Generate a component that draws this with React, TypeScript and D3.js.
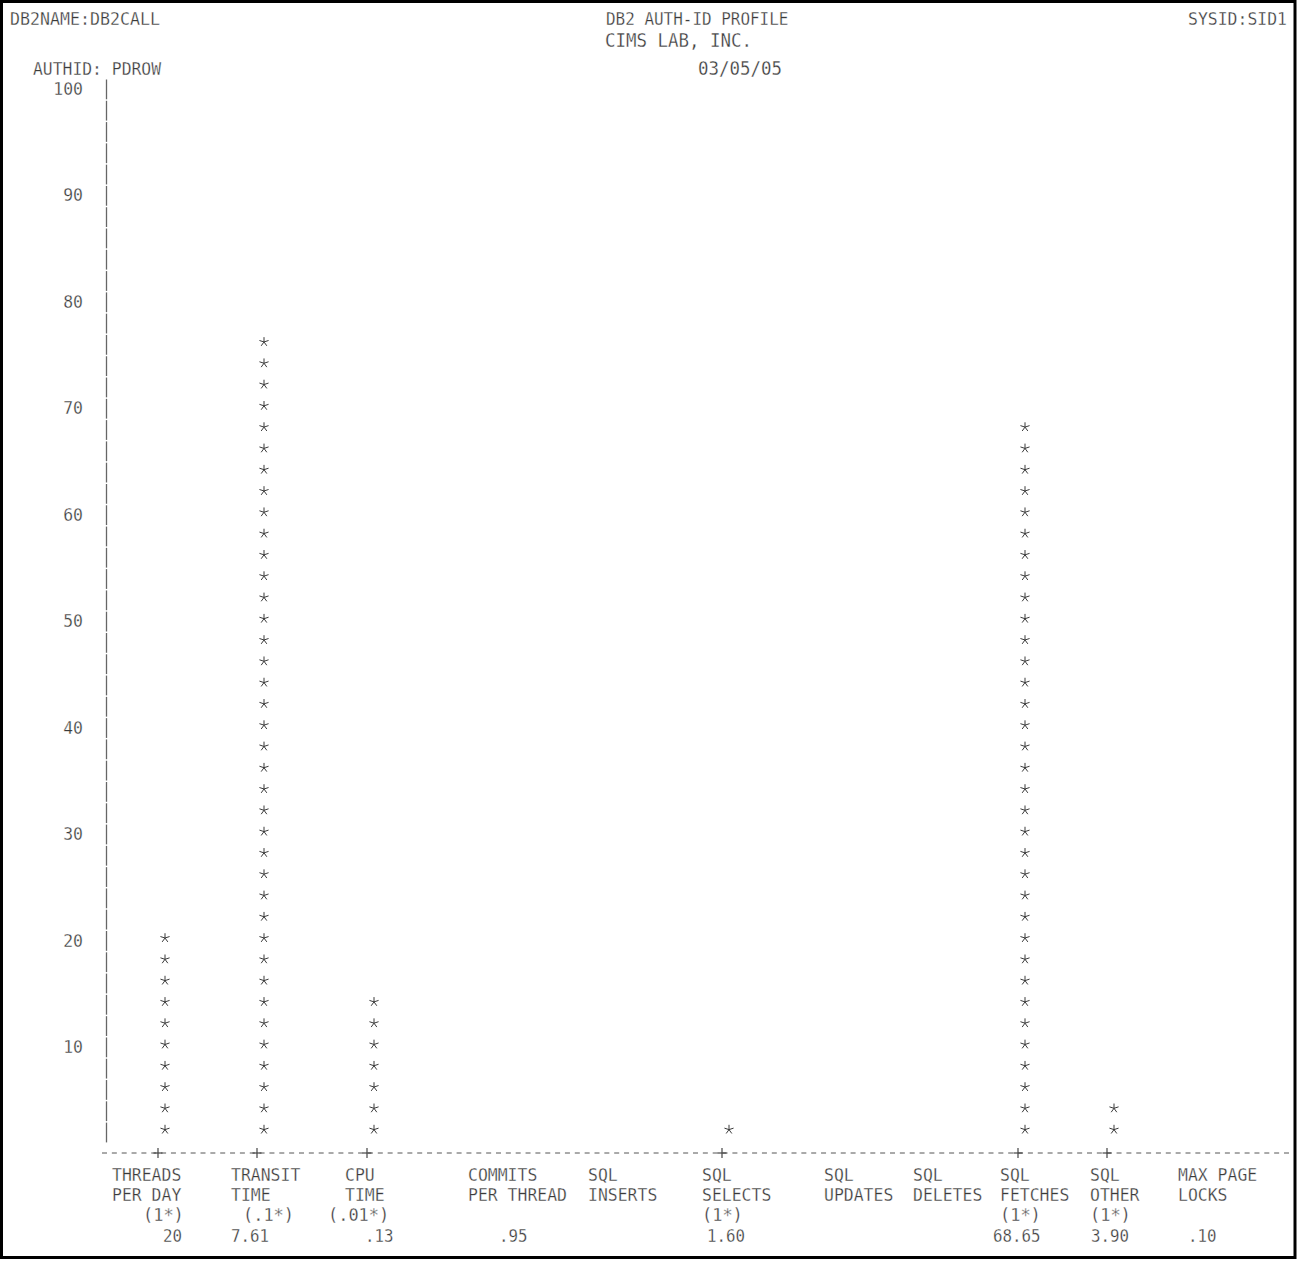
import React from "react";
import * as d3 from "d3";

// ---- data ----
const categories = [
  "THREADS PER DAY", "TRANSIT TIME", "CPU TIME", "COMMITS PER THREAD", "SQL INSERTS",
  "SQL SELECTS", "SQL UPDATES", "SQL DELETES", "SQL FETCHES", "SQL OTHER", "MAX PAGE LOCKS",
];
const plottedValues = [20, 76, 14, 0, 0, 2, 0, 0, 68, 4, 0];
const labelLine1 = ["THREADS", "TRANSIT", "CPU", "COMMITS", "SQL", "SQL", "SQL", "SQL", "SQL", "SQL", "MAX PAGE"];
const labelLine2 = ["PER DAY", "TIME", "TIME", "PER THREAD", "INSERTS", "SELECTS", "UPDATES", "DELETES", "FETCHES", "OTHER", "LOCKS"];
const scaleNotes = ["(1*)", "(.1*)", "(.01*)", "", "", "(1*)", "", "", "(1*)", "(1*)", ""];
const valueLabels = ["20", "7.61", ".13", ".95", "", "1.60", "", "", "68.65", "3.90", ".10"];
const yTicks = [100, 90, 80, 70, 60, 50, 40, 30, 20, 10];
const starStep = 2;

// ---- layout (column positions in px) ----
const plusX = [158, 257, 367, 490, 610, 722, 840, 930, 1018, 1107, 1200];
const labelX = [112, 231, 345, 468, 588, 702, 824, 913, 1000, 1090, 1178];
const noteX = [143, 243, 328, 0, 0, 702, 0, 0, 1000, 1090, 0];
const valueX = [163, 231, 365, 499, 0, 707, 0, 0, 993, 1091, 1188];

const W = 1297;
const H = 1261;
const INK = "#3a3a3a";
const FONT = "'DejaVu Sans Mono', monospace";

function T({ x, y, s, anchor = "start", cw = 9.85, size = 18 }: any) {
  return (
    <text
      x={x}
      y={y}
      textLength={s.length * cw}
      lengthAdjust="spacingAndGlyphs"
      textAnchor={anchor}
      fontFamily={FONT}
      fontSize={size}
      fill={INK}
      stroke="#fff"
      strokeWidth={0.3}
    >
      {s}
    </text>
  );
}

function starPath(r: number) {
  const p = d3.path();
  for (let k = 0; k < 5; k++) {
    const a = (-90 + k * 72) * (Math.PI / 180);
    p.moveTo(0, 0);
    p.lineTo(r * Math.cos(a), r * Math.sin(a));
  }
  return p.toString();
}

export default function App() {
  const y = d3.scaleLinear().domain([0, 100]).range([1152.4, 88]);
  const x = d3.scaleOrdinal<string, number>().domain(categories).range(plusX);
  const star = starPath(4.8);

  const axisRows = d3.range(starStep, 100 + starStep, starStep);

  return (
    <svg
      width={W}
      height={H}
      style={{ position: "absolute", left: 0, top: 0, display: "block", background: "#fff" }}
    >
      <rect x={1.5} y={1.5} width={W - 3.5} height={1256} fill="#fff" stroke="#000" strokeWidth={3} />

      {/* header */}
      <T x={10} y={25} s="DB2NAME:DB2CALL" cw={10} />
      <T x={606} y={25} s="DB2 AUTH-ID PROFILE" cw={9.6} />
      <T x={1287} y={25} s="SYSID:SID1" anchor="end" cw={9.9} />
      <T x={605} y={47} s="CIMS LAB, INC." cw={10.5} size={19} />
      <T x={33} y={75} s="AUTHID: PDROW" cw={9.85} />
      <T x={698} y={75} s="03/05/05" cw={10.5} size={19} />

      {/* y axis */}
      {axisRows.map((v) => (
        <line key={"ax" + v} x1={106.5} x2={106.5} y1={y(v) - 8.5} y2={y(v) + 11.3} stroke="#666" strokeWidth={1.3} />
      ))}
      {yTicks.map((v) => (
        <T key={"t" + v} x={83} y={y(v) + 7} s={String(v)} anchor="end" cw={9.9} />
      ))}

      {/* x axis */}
      <line x1={102} x2={1291} y1={1153} y2={1153} stroke="#555" strokeWidth={1} strokeDasharray="5,4.85" />
      {categories.map((c, i) =>
        plottedValues[i] > 0 ? (
          <g key={"p" + c} stroke="#444" strokeWidth={1.2}>
            <line x1={x(c) - 4.5} x2={x(c) + 4.5} y1={1153} y2={1153} />
            <line x1={x(c)} x2={x(c)} y1={1148} y2={1158} />
          </g>
        ) : null
      )}

      {/* stars */}
      {categories.map((c, i) =>
        d3.range(starStep, plottedValues[i] + 0.001, starStep).map((v) => (
          <path
            key={c + v}
            d={star}
            transform={`translate(${x(c) + 7},${y(v) - 1.5})`}
            stroke={INK}
            strokeWidth={1}
            fill="none"
          />
        ))
      )}

      {/* category labels */}
      {categories.map((c, i) => (
        <g key={"l" + c}>
          <T x={labelX[i]} y={1181} s={labelLine1[i]} cw={9.9} />
          <T x={labelX[i]} y={1201} s={labelLine2[i]} cw={9.9} />
          {scaleNotes[i] ? <T x={noteX[i]} y={1221} s={scaleNotes[i]} cw={10.2} /> : null}
          {valueLabels[i] ? <T x={valueX[i]} y={1242} s={valueLabels[i]} cw={9.5} /> : null}
        </g>
      ))}
    </svg>
  );
}
